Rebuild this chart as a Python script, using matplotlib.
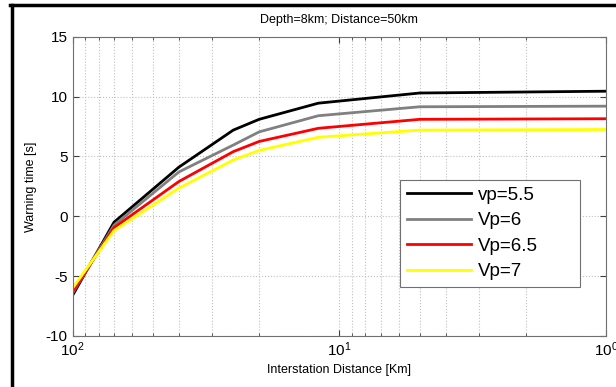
import matplotlib
matplotlib.use("Agg")
import matplotlib.pyplot as plt
from matplotlib.lines import Line2D
from matplotlib.ticker import LogLocator

plt.rcParams['font.family'] = ['Liberation Sans', 'DejaVu Sans']
plt.rcParams['axes.unicode_minus'] = False

# Data
distance = [100, 70, 40, 25, 20, 12, 5, 1]
vp55 = [-6.6, -0.5, 4.1, 7.2, 8.1, 9.45, 10.3, 10.45]
vp6 = [-6.4, -0.75, 3.7, 5.95, 7.05, 8.4, 9.15, 9.2]
vp65 = [-6.3, -0.95, 2.9, 5.4, 6.25, 7.35, 8.1, 8.15]
vp7 = [-6.0, -1.2, 2.35, 4.7, 5.5, 6.6, 7.2, 7.25]
labels = ["vp=5.5", "Vp=6", "Vp=6.5", "Vp=7"]
colors = ["black", "#808080", "red", "yellow"]

fig = plt.figure(figsize=(6.16, 3.87), dpi=100)
ax = fig.add_axes([0.118, 0.132, 0.866, 0.773])

for y, lab, c in zip([vp55, vp6, vp65, vp7], labels, colors):
    ax.plot(distance, y, color=c, linewidth=2, label=lab)

ax.set_xscale('log')
ax.set_xlim(100, 1)
ax.set_ylim(-10, 15)
ax.set_yticks([-10, -5, 0, 5, 10, 15])
ax.xaxis.set_minor_locator(LogLocator(base=10, subs=range(2, 10)))

ax.grid(True, which='major', linestyle=':', color='#c0c0c0', linewidth=0.8)
ax.grid(True, which='minor', axis='x', linestyle=':', color='#c0c0c0', linewidth=0.8)

ax.tick_params(which='both', direction='in', top=True, right=True,
               color='#404040', labelsize=11)
ax.tick_params(which='major', length=4)
ax.tick_params(which='minor', length=2)
for s in ax.spines.values():
    s.set_color('#707070')
    s.set_linewidth(0.8)

ax.set_title("Depth=8km; Distance=50km", fontsize=9, pad=10)
ax.set_xlabel("Interstation Distance [Km]", fontsize=9, labelpad=3)
ax.set_ylabel("Warning time [s]", fontsize=9, labelpad=6)

leg = ax.legend(loc='lower left', bbox_to_anchor=(0.614, 0.164, 0.337, 0.355),
                mode='expand', fontsize=13.5, handlelength=3.45, fancybox=False,
                framealpha=1, borderpad=0.35, labelspacing=0.45,
                handletextpad=0.32, borderaxespad=0)
leg.get_frame().set_edgecolor('#707070')
leg.get_frame().set_linewidth(0.8)

# screenshot border
fig.add_artist(Line2D([10 / 616, 1], [1 - 5 / 387, 1 - 5 / 387],
                      transform=fig.transFigure, color='black', linewidth=2.5))
fig.add_artist(Line2D([12 / 616, 12 / 616], [0, 1 - 5 / 387],
                      transform=fig.transFigure, color='black', linewidth=2.5))

plt.savefig("out.png", dpi=100)
